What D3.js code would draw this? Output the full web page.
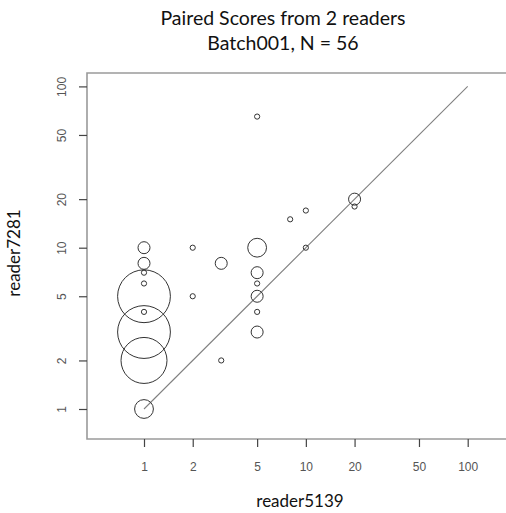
<!DOCTYPE html>
<html>
<head>
<meta charset="utf-8">
<script src="https://cdn.jsdelivr.net/npm/d3@7"></script>
<style>
  body { margin: 0; background: #fff; }
  .tick-label { font-family: "Liberation Sans", Arial, sans-serif; font-size: 12px; fill: #555; }
  .title { font-family: Lato, "Open Sans", sans-serif; font-size: 19.5px; fill: #111; }
  .axis-title { font-family: Lato, "Open Sans", sans-serif; font-size: 17px; fill: #111; }
</style>
</head>
<body>
<div id="chart"></div>
<script>
// paired scores: reader5139 (x), reader7281 (y), number of cases at that pair
const xScores = [5, 20, 20, 8, 10, 10, 5, 1, 1, 1, 1, 1, 1, 1, 1, 1, 2, 2, 3, 3, 5, 5, 5, 5, 5];
const yScores = [65, 20, 18, 15, 17, 10, 10, 10, 8, 7, 6, 5, 4, 3, 2, 1, 10, 5, 8, 2, 7, 6, 5, 4, 3];
const counts  = [1, 2, 1, 1, 1, 1, 3, 2, 2, 1, 1, 8, 1, 8, 7, 3, 1, 1, 2, 1, 2, 1, 2, 1, 2];
const tickValues = [1, 2, 5, 10, 20, 50, 100];
const identityLine = [1, 100];

const config = {
    width: 506,
    height: 513,
    margin: {top: 73, right: -10, bottom: 74, left: 87}
};

const data = xScores.map((x, i) => ({x: x, y: yScores[i], n: counts[i]}));

const svg = d3.select('#chart')
    .append('svg')
    .attr('width', config.width)
    .attr('height', config.height);

const innerW = config.width - config.margin.left - config.margin.right;
const innerH = config.height - config.margin.top - config.margin.bottom;

const chart = svg.append('g')
    .attr('transform', `translate(${config.margin.left},${config.margin.top})`);

// log scales, the 1..100 decades sit at these pixel spots
const xScale = d3.scaleLog().domain([1, 100]).range([57, 380.7]);
const yScale = d3.scaleLog().domain([1, 100]).range([336, 13.4]);
const rScale = d3.scaleLinear().domain([1, 8]).range([2.6, 26.4]);

// box (right side runs off the picture)
chart.append('path')
    .attr('d', `M${innerW},0H0V${innerH}H${innerW}`)
    .attr('fill', 'none')
    .attr('stroke', '#9a9a9a')
    .attr('stroke-width', 1.6);

const xAxis = d3.axisBottom(xScale)
    .tickValues(tickValues)
    .tickFormat(d3.format('d'))
    .tickSizeInner(8)
    .tickSizeOuter(0)
    .tickPadding(15);

const yAxis = d3.axisLeft(yScale)
    .tickValues(tickValues)
    .tickFormat(d3.format('d'))
    .tickSizeInner(8)
    .tickSizeOuter(0)
    .tickPadding(10);

const xAxisG = chart.append('g').attr('transform', `translate(0,${innerH})`).call(xAxis);
const yAxisG = chart.append('g').call(yAxis);

[xAxisG, yAxisG].forEach(g => {
    g.select('.domain').remove();
    g.selectAll('.tick line').attr('stroke', '#444').attr('stroke-width', 1.2);
    g.selectAll('.tick text').attr('class', 'tick-label').attr('font-family', null).attr('font-size', null);
});

// y labels rotated like R's default
yAxisG.selectAll('.tick text')
    .attr('x', null).attr('dy', null)
    .attr('transform', 'translate(-24,0) rotate(-90)')
    .attr('text-anchor', 'middle')
    .attr('dominant-baseline', 'middle');

// identity line
chart.append('line')
    .attr('x1', xScale(identityLine[0]))
    .attr('y1', yScale(identityLine[0]))
    .attr('x2', xScale(identityLine[1]))
    .attr('y2', yScale(identityLine[1]))
    .attr('stroke', '#808080')
    .attr('stroke-width', 1.1);

chart.selectAll('.point')
    .data(data)
    .join('circle')
    .attr('class', 'point')
    .attr('cx', d => xScale(d.x))
    .attr('cy', d => yScale(d.y))
    .attr('r', d => rScale(d.n))
    .attr('fill', 'none')
    .attr('stroke', '#333')
    .attr('stroke-width', 1);

svg.append('text').attr('class', 'title')
    .attr('x', 283).attr('y', 25)
    .attr('text-anchor', 'middle')
    .text('Paired Scores from 2 readers');
svg.append('text').attr('class', 'title')
    .attr('x', 283).attr('y', 49.5)
    .attr('text-anchor', 'middle')
    .text('Batch001, N = 56');

svg.append('text').attr('class', 'axis-title')
    .attr('x', 300).attr('y', 507)
    .attr('text-anchor', 'middle')
    .text('reader5139');
svg.append('text').attr('class', 'axis-title')
    .attr('transform', 'translate(20,253) rotate(-90)')
    .attr('text-anchor', 'middle')
    .text('reader7281');
</script>
</body>
</html>
